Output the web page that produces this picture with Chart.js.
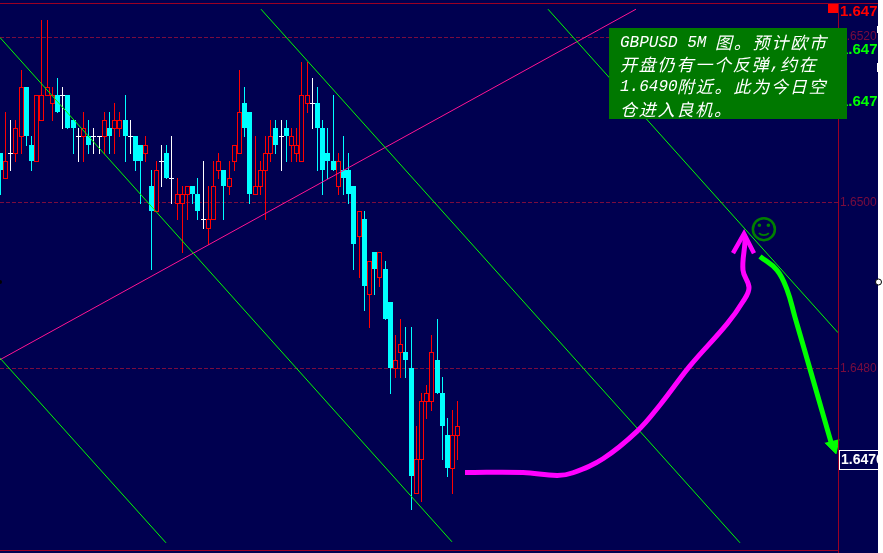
<!DOCTYPE html>
<html>
<head>
<meta charset="utf-8">
<style>html,body{margin:0;padding:0;background:#fff}canvas{display:block}</style>
<script src="https://cdn.jsdelivr.net/npm/chart.js@4"></script>
</head>
<body>
<canvas id="c" width="883" height="553" style="width:883px;height:553px"></canvas>
<script>
// Candles, price x 10000
const opens=[16506,16503,16506,16506,16508,16514,16507,16505,16510,16513,16512,16513,16513,16513,16510,16508,16508,16508,16508,16508,16508,16509,16509,16509,16510,16508,16508,16507,16506,16502,16499,16505,16506,16503,16500,16500,16501,16502,16501,16498,16497,16498,16504,16504,16502,16505,16506,16512,16511,16501,16502,16504,16506,16509,16508,16509,16507,16506,16505,16512,16512,16512,16509,16506,16505,16502,16504,16504,16502,16496,16498,16489,16494,16491,16492,16488,16480,16482,16482,16480,16465,16469,16476,16476,16481,16477,16472,16468,16472];
const closes=[16504,16505,16506,16509,16514,16508,16505,16513,16513,16514,16513,16511,16513,16509,16509,16508,16509,16507,16508,16508,16510,16508,16510,16510,16508,16508,16505,16505,16507,16499,16504,16505,16503,16503,16501,16501,16502,16501,16499,16498,16498,16502,16505,16502,16503,16507,16511,16509,16501,16502,16504,16506,16508,16507,16508,16508,16508,16507,16513,16513,16512,16509,16504,16505,16504,16505,16503,16501,16495,16499,16490,16493,16492,16494,16486,16480,16481,16483,16481,16467,16469,16476,16477,16482,16477,16473,16468,16472,16473];
const highs=[16506,16511,16510,16510,16516,16514,16508,16513,16522,16522,16514,16515,16514,16513,16510,16509,16511,16510,16509,16508,16511,16511,16512,16511,16513,16510,16508,16507,16508,16504,16505,16507,16507,16508,16503,16502,16502,16502,16503,16505,16502,16505,16506,16504,16505,16507,16516,16514,16511,16508,16505,16508,16510,16510,16510,16510,16509,16509,16517,16517,16515,16514,16510,16509,16513,16506,16508,16506,16502,16499,16499,16493,16494,16494,16493,16488,16484,16486,16485,16485,16473,16477,16478,16484,16486,16479,16474,16475,16476];
const lows=[16501,16503,16504,16505,16506,16507,16504,16505,16510,16513,16510,16511,16509,16509,16506,16505,16505,16506,16506,16506,16506,16506,16506,16508,16505,16506,16504,16500,16505,16492,16499,16502,16503,16500,16498,16494,16498,16500,16498,16497,16495,16498,16503,16498,16501,16504,16506,16508,16500,16501,16501,16498,16505,16506,16504,16505,16505,16505,16505,16511,16509,16504,16501,16503,16504,16501,16501,16500,16492,16491,16487,16485,16489,16490,16486,16477,16479,16479,16479,16463,16465,16464,16474,16475,16477,16469,16467,16465,16469];
// Price-axis ticks
const priceTicks=[1.652,1.65,1.648];
const priceMin=1.645882, priceMax=1.652336, barMax=161.154;
// Trend lines: [bar index, price] end points
const channelA=[[0,1.651994],[86.92,1.645906]];
const channelB=[[0,1.648124],[31.92,1.645894]];
const channelC=[[50.19,1.652336],[142.31,1.645894]];
const channelD=[[105.38,1.652336],[161.15,1.648431]];
const riseLine=[[0,1.648104],[122.31,1.652336]];
// Hand-drawn forecast arrows
const upPath=[[89.42,1.646743],[100.58,1.646743],[107.12,1.646708],[110.19,1.64674],[115.96,1.646909],[122.5,1.647239],[126.92,1.647558],[132.69,1.64803],[139.81,1.648537],[142.88,1.648808],[144.04,1.648973],[142.88,1.649186],[143.27,1.64954],[143.08,1.649611]];
const upHead=[[140.96,1.64939],[143.08,1.649626],[145,1.64939]];
const downPath=[[146.15,1.649351],[149.42,1.649186],[151.35,1.64895],[152.88,1.648619],[154.62,1.648242],[159.81,1.647109]];
const downHead=[[158.65,1.647101],[160.77,1.646968],[161.35,1.647145]];
const smiley=[146.9,1.64968];
const noteLines=["GBPUSD 5M 图。预计欧市","开盘仍有一个反弹,约在","1.6490附近。此为今日空","仓进入良机。"];
const sideLabels=[["1.6478","#ff0000",12,15],["1.6471","#00ff00",50,15],["1.6471","#00ff00",102,15]];
const lastLabel="1.6470", lastPrice=1.6469;

const NAVY="#000050",RED="#ff0000",CYAN="#00ffff",WHITE="#ffffff",FRAME="#9a0024";
const kind=(i,a,b,c)=>closes[i]>opens[i]?a:closes[i]<opens[i]?b:c;
const wicks=lows.map((l,i)=>({x:i,y:[l/1e4,highs[i]/1e4]}));
const bodies=opens.map((o,i)=>({x:i,y:[Math.min(o,closes[i])/1e4,Math.max(o,closes[i])/1e4]}));
const toPts=a=>a.map(p=>({x:p[0],y:p[1]}));
const lineDs=(pts,color,w,order,extra)=>Object.assign({type:'line',data:toPts(pts),borderColor:color,backgroundColor:color,borderWidth:w,pointRadius:0,tension:0,order:order,clip:false,borderCapStyle:'butt',borderJoinStyle:'miter'},extra||{});

const snap={id:'snap',afterDatasetsUpdate(ch){
  ch.data.datasets.forEach((d,di)=>{
    if(d.type==='line')return;
    ch.getDatasetMeta(di).data.forEach((el,i)=>{
      el.x=Math.floor(el.x+0.4)+0.5;
      const t=Math.round(Math.min(el.y,el.base));let b=Math.round(Math.max(el.y,el.base));
      const hollow=closes[i]>opens[i];
      if(b===t||hollow||d.label==='wick')b+=1;
      el.y=t;el.base=b;
    });
  });
}};
const back={id:'back',beforeDraw(ch){const c=ch.ctx;c.save();c.fillStyle=NAVY;c.fillRect(0,0,878,553);c.fillStyle="#fff";c.fillRect(878,0,5,553);c.restore();}};
const front={id:'front',afterDraw(ch){
  const c=ch.ctx,X=ch.scales.x,Y=ch.scales.y;
  c.save();
  c.beginPath();c.rect(0,0,878,553);c.clip();
  // frame
  c.fillStyle=FRAME;c.fillRect(0,3,878,1);c.fillRect(0,550,838,1);c.fillRect(838,3,1,550);
  c.fillStyle=RED;c.fillRect(828,4,10,9);
  c.fillStyle="#fff";c.fillRect(877,26,1,7);c.fillRect(877,63,1,9);
  // side labels
  c.textBaseline="middle";c.textAlign="left";
  sideLabels.forEach(l=>{c.font="bold "+l[3]+"px 'Liberation Sans'";c.fillStyle=l[1];c.fillText(l[0],840,l[2]);});
  const ly=Math.round(Y.getPixelForValue(lastPrice));
  c.fillStyle=NAVY;c.fillRect(839,ly-9,39,20);
  c.strokeStyle="#fff";c.lineWidth=1;c.strokeRect(839.5,ly-8.5,45,19);
  c.font="bold 14px 'Liberation Sans'";c.fillStyle="#fff";c.fillText(lastLabel,841,ly+1);
  // smiley
  const sx=X.getPixelForValue(smiley[0]),sy=Y.getPixelForValue(smiley[1]);
  c.strokeStyle="#008000";c.fillStyle="#008000";c.lineWidth=2.5;
  c.beginPath();c.arc(sx,sy,11,0,Math.PI*2);c.stroke();
  c.beginPath();c.arc(sx-4.5,sy-4,1.8,0,Math.PI*2);c.arc(sx+4.5,sy-4,1.8,0,Math.PI*2);c.fill();
  c.lineWidth=1.8;c.beginPath();c.arc(sx,sy-1,7,0.25*Math.PI,0.75*Math.PI);c.stroke();
  // note box
  c.fillStyle="#007800";c.fillRect(609,28,238,91);
  c.fillStyle="#fff";
  noteLines.forEach((t,i)=>{
    let x=620;const y=[43,65,87,110][i];
    t.match(/[\x00-\x7f]+|[^\x00-\x7f]+/g).forEach(run=>{
      if(/^[\x00-\x7f]/.test(run)){
        c.letterSpacing="0px";c.font="italic 16px 'Liberation Mono'";c.fillText(run,x,y);x+=run.length*9.5;
      }else{
        c.letterSpacing="1.8px";c.font="italic 17px 'Noto Sans CJK SC'";c.fillText(run,x,y);x+=run.length*18.8;
      }
    });
  });
  c.letterSpacing="0px";
  c.restore();
  // status dots
  c.save();
  c.fillStyle="#fff";c.strokeStyle="#000";c.lineWidth=1;
  c.beginPath();c.arc(878.5,282,3,0,Math.PI*2);c.fill();c.stroke();
  c.fillStyle="#000";c.beginPath();c.arc(0,282,2,0,Math.PI*2);c.fill();
  c.restore();
}};

new Chart(document.getElementById('c'),{
  type:'bar',
  data:{datasets:[
    lineDs(downHead,"#00ff00",1,0,{fill:'shape'}),
    lineDs(downPath,"#00ff00",5,1,{tension:0.4}),
    lineDs(upHead,"#ff00ff",4.5,2),
    lineDs(upPath,"#ff00ff",5,3,{tension:0.4}),
    lineDs(channelA,"#00ff00",1,4),
    lineDs(channelB,"#00ff00",1,4),
    lineDs(channelC,"#00ff00",1,4),
    lineDs(channelD,"#00ff00",1,4),
    lineDs(riseLine,"#ff1493",1,4),
    {label:'body',type:'bar',data:bodies,order:5,barThickness:5,grouped:false,inflateAmount:0,borderSkipped:false,
      backgroundColor:bodies.map((b,i)=>kind(i,NAVY,CYAN,WHITE)),
      borderColor:bodies.map((b,i)=>kind(i,RED,CYAN,WHITE)),
      borderWidth:bodies.map((b,i)=>kind(i,1,0,0))},
    {label:'wick',type:'bar',data:wicks,order:6,barThickness:1,grouped:false,inflateAmount:0,borderWidth:0,
      backgroundColor:wicks.map((b,i)=>kind(i,RED,CYAN,WHITE))}
  ]},
  options:{
    responsive:false,animation:false,devicePixelRatio:1,
    layout:{autoPadding:false,padding:{top:3,bottom:3,left:0,right:5}},
    plugins:{legend:{display:false},tooltip:{enabled:false}},
    scales:{
      x:{type:'linear',display:false,min:0,max:barMax,offset:false,grid:{display:false}},
      y:{position:'right',min:priceMin,max:priceMax,
        afterBuildTicks(s){s.ticks=priceTicks.map(v=>({value:v}));},
        afterFit(s){s.width=40;},
        border:{display:false,dash:[4,2]},
        grid:{color:"#7a0c3e",lineWidth:1,tickLength:0,drawTicks:false},
        ticks:{color:"#7a0c3e",padding:2,font:{family:"'Liberation Sans'",size:12},callback:v=>v.toFixed(4),autoSkip:false}
      }
    }
  },
  plugins:[back,snap,front]
});
</script>
</body>
</html>
